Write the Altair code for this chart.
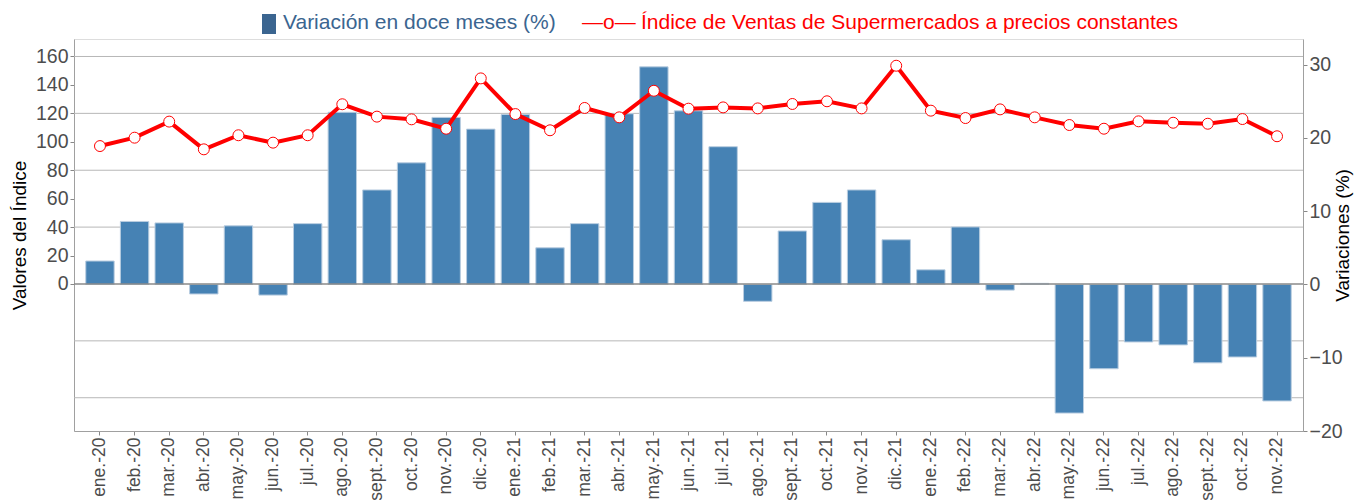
import altair as alt
import pandas as pd

meses = ["ene.-20", "feb.-20", "mar.-20", "abr.-20", "may.-20", "jun.-20", "jul.-20",
         "ago.-20", "sept.-20", "oct.-20", "nov.-20", "dic.-20",
         "ene.-21", "feb.-21", "mar.-21", "abr.-21", "may.-21", "jun.-21", "jul.-21",
         "ago.-21", "sept.-21", "oct.-21", "nov.-21", "dic.-21",
         "ene.-22", "feb.-22", "mar.-22", "abr.-22", "may.-22", "jun.-22", "jul.-22",
         "ago.-22", "sept.-22", "oct.-22", "nov.-22"]

indice = [97.0, 102.9, 114.2, 94.7, 104.6, 99.4, 104.6, 126.4, 117.7, 115.8, 109.2, 144.6,
          119.5, 108.1, 123.8, 117.2, 135.9, 123.3, 124.2, 123.5, 126.6, 128.5, 123.5, 153.5,
          121.9, 116.7, 122.8, 117.2, 111.8, 109.2, 114.4, 113.4, 112.7, 116.0, 103.9]

variacion = [3.2, 8.6, 8.4, -1.3, 8.0, -1.45, 8.3, 23.5, 12.9, 16.6, 22.8, 21.2,
             23.2, 5.0, 8.3, 23.3, 29.7, 23.7, 18.8, -2.3, 7.3, 11.2, 12.9, 6.1,
             2.0, 7.85, -0.77, 0.15, -17.55, -11.5, -7.85, -8.25, -10.7, -9.9, -15.9]

ticks_izq = [0, 20, 40, 60, 80, 100, 120, 140, 160]
grid_izq = [-80, -40, 40, 80, 120, 160]
ticks_der = [-20, -10, 0, 10, 20, 30]

serie_barras = "Variación en doce meses (%)"
serie_linea = "Índice de Ventas de Supermercados a precios constantes"

df = pd.DataFrame({"mes": meses, "indice": indice, "variacion": variacion})
df_grid = pd.DataFrame({"v": grid_izq})
df_cero = pd.DataFrame({"v": [0]})

dom_izq = [-103.4, 172.3]
dom_der = [-20, 33.5]

FONT = "Liberation Sans"
LBL = "#4d4d4d"

x_enc = alt.X("mes:N", sort=meses,
              scale=alt.Scale(paddingInner=0.18, paddingOuter=0.34),
              axis=alt.Axis(title=None, labelAngle=270, labelFontSize=17.5, labelColor=LBL,
                            labelFont=FONT, tickSize=4, tickColor="#888888",
                            domainColor="#a0a0a0", labelPadding=2))

grid = alt.Chart(df_grid).mark_rule(color="#b8b8b8", strokeWidth=1).encode(
    y=alt.Y("v:Q", scale=alt.Scale(domain=dom_izq, nice=False, zero=False),
            axis=alt.Axis(orient="left", values=ticks_izq, title="Valores del Índice",
                          grid=False, labelFontSize=19.5, labelColor=LBL, labelFont=FONT,
                          tickSize=4, tickColor="#888888", domainColor="#a0a0a0",
                          labelPadding=2, titleFontSize=19, titleFont=FONT,
                          titleFontWeight="normal", titleColor="#000000", titlePadding=6))
)

barras = alt.Chart(df).mark_bar(color="#4682b4", stroke="#b9cde0", strokeWidth=1).encode(
    x=x_enc,
    y=alt.Y("variacion:Q", scale=alt.Scale(domain=dom_der, nice=False, zero=False),
            axis=alt.Axis(orient="right", values=ticks_der, title="Variaciones (%)",
                          grid=False, labelFontSize=19.5, labelColor=LBL, labelFont=FONT,
                          tickSize=4, tickColor="#888888", domainColor="#a0a0a0",
                          labelPadding=2, titleFontSize=19, titleFont=FONT,
                          titleFontWeight="normal", titleColor="#000000", titleAngle=270,
                          titlePadding=10))
)

cero = alt.Chart(df_cero).mark_rule(color="#8a8a8a", strokeWidth=1.5).encode(
    y=alt.Y("v:Q", scale=alt.Scale(domain=dom_izq, nice=False, zero=False), axis=None)
)

linea = alt.Chart(df).mark_line(color="#ff0000", strokeWidth=4).encode(
    x=x_enc,
    y=alt.Y("indice:Q", scale=alt.Scale(domain=dom_izq, nice=False, zero=False), axis=None)
)

puntos = alt.Chart(df).mark_point(filled=True, fill="white", stroke="#ff0000",
                                  strokeWidth=1, size=120, opacity=1).encode(
    x=x_enc,
    y=alt.Y("indice:Q", scale=alt.Scale(domain=dom_izq, nice=False, zero=False), axis=None)
)

leg_rect = alt.Chart(pd.DataFrame({"s": [serie_barras]})).mark_rect(color="#3b6590").encode(
    x=alt.value(188), x2=alt.value(202), y=alt.value(-25), y2=alt.value(-5)
)
leg_txt1 = alt.Chart(pd.DataFrame({"s": [serie_barras]})).mark_text(
    align="left", baseline="middle", fontSize=21, font=FONT, color="#3b6590"
).encode(x=alt.value(209), y=alt.value(-16), text="s:N")
leg_sym2 = alt.Chart(pd.DataFrame({"s": ["—o—"]})).mark_text(
    align="left", baseline="middle", fontSize=21, font=FONT, color="#ff0000"
).encode(x=alt.value(508), y=alt.value(-16), text="s:N")
leg_txt2 = alt.Chart(pd.DataFrame({"s": [serie_linea]})).mark_text(
    align="left", baseline="middle", fontSize=21, font=FONT, color="#ff0000"
).encode(x=alt.value(567), y=alt.value(-16), text="s:N")

chart = alt.layer(grid, barras, cero, linea, puntos, leg_rect, leg_txt1, leg_sym2, leg_txt2).resolve_scale(
    y="independent"
).properties(
    width=1229, height=392,
    autosize=alt.AutoSizeParams(type="none"),
    padding={"left": 66, "top": 31, "right": 56, "bottom": 70},
).configure_view(
    fill="#eaeaea", stroke="#c4c4c4"
).configure(font=FONT)

chart.save("out.html", embed_options={"renderer": "svg", "actions": False})
